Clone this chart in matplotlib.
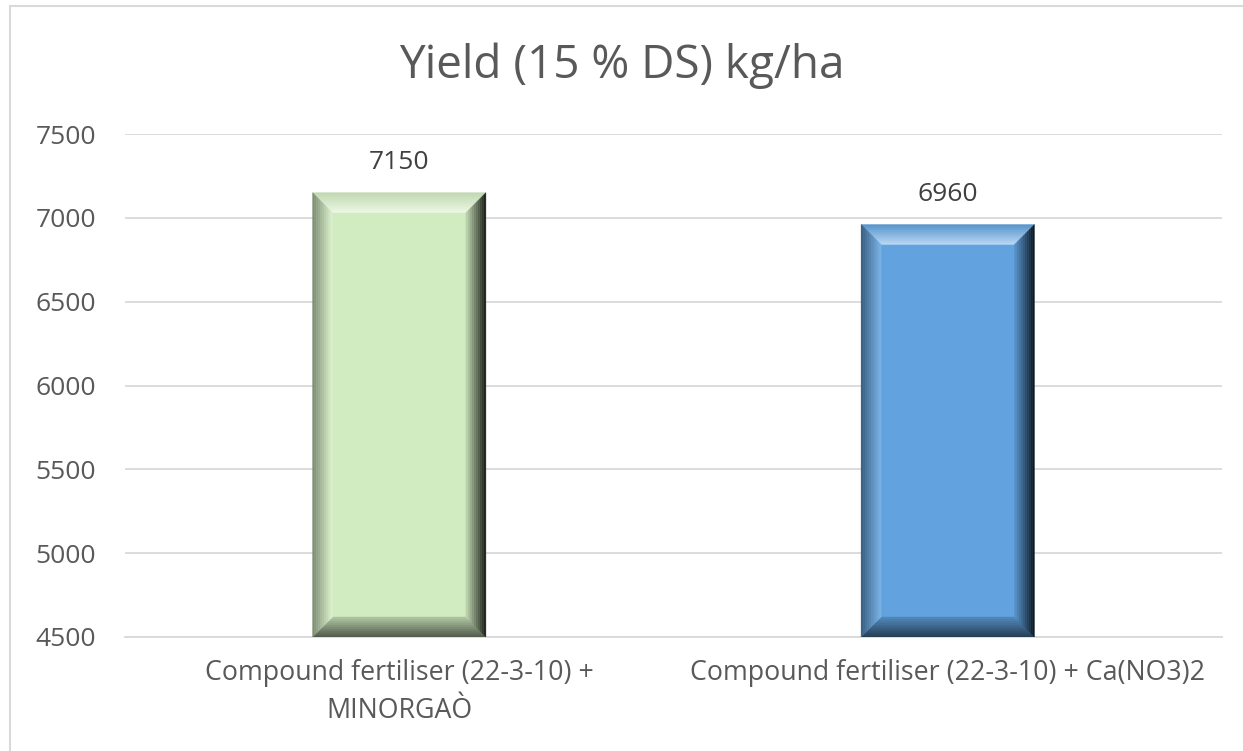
import matplotlib
matplotlib.use("Agg")
import matplotlib.pyplot as plt
import numpy as np
from matplotlib.patches import Polygon, Rectangle
from matplotlib.transforms import IdentityTransform
from matplotlib.colors import to_rgb

# данные
categories = ["Compound fertiliser (22-3-10) +\nMINORGAÒ",
              "Compound fertiliser (22-3-10) + Ca(NO3)2"]
values = [7150, 6960]
bar_colors = ["#D2ECC2", "#62A3DF"]
title = "Yield (15 % DS) kg/ha"
yticks = [4500, 5000, 5500, 6000, 6500, 7000, 7500]

plt.rcParams['font.family'] = ['Open Sans', 'DejaVu Sans']
text_gray = "#595959"

fig = plt.figure(figsize=(12.43, 7.51), dpi=100)
ax = fig.add_axes([125 / 1243, 1 - 637 / 751, 1097 / 1243, 503 / 751])

x = np.arange(len(categories))
bars = ax.bar(x, values, width=0.316, color=bar_colors, zorder=2)

ax.set_xlim(-0.5, len(categories) - 0.5)
ax.set_ylim(yticks[0], yticks[-1])
ax.set_yticks(yticks)
ax.set_xticks(x)
ax.set_xticklabels(categories, fontsize=19.3, color=text_gray, linespacing=1.45)
ax.tick_params(axis='y', labelsize=19, colors=text_gray, length=0, pad=21)
ax.tick_params(axis='x', length=0, pad=16)
ax.grid(axis='y', color="#D9D9D9", linewidth=1.3, zorder=0)
for s in ax.spines.values():
    s.set_visible(False)
ax.spines['bottom'].set_visible(True)
ax.spines['bottom'].set_color("#D9D9D9")
ax.spines['bottom'].set_linewidth(1.3)

# подписи значений
for xi, v in zip(x, values):
    ax.annotate(f"{v}", (xi, v), xytext=(0, 17), textcoords='offset points',
                ha='center', va='baseline', fontsize=19, color="#404040")

fig.text(0.5, 1 - 78 / 751, title, ha='center', va='baseline', fontsize=33, color=text_gray)


def mix(c, other, t):
    c = np.array(to_rgb(c))
    o = np.array(to_rgb(other))
    return tuple(c * (1 - t) + o * t)


def bevel(patch, base, size=20, steps=10):
    """Имитация объёмного стиля Excel"""
    bb = patch.get_window_extent()
    ab = ax.get_window_extent()
    x0, x1 = bb.x0, bb.x1
    y0, y1 = max(bb.y0, ab.y0), min(bb.y1, ab.y1)
    sides = {
        'top': (mix(base, "black", 0.08), mix(base, "white", 0.55)),
        'left': (mix(base, "black", 0.40), mix(base, "white", 0.15)),
        'right': (mix(base, "black", 0.85), mix(base, "black", 0.12)),
        'bottom': (mix(base, "black", 0.60), mix(base, "black", 0.18)),
    }
    for k in range(steps):
        a = size * k / steps
        b = size * (k + 1) / steps
        t = k / (steps - 1)
        polys = {
            'top': [(x0 + a, y1 - a), (x1 - a, y1 - a), (x1 - b, y1 - b), (x0 + b, y1 - b)],
            'bottom': [(x0 + a, y0 + a), (x1 - a, y0 + a), (x1 - b, y0 + b), (x0 + b, y0 + b)],
            'left': [(x0 + a, y0 + a), (x0 + a, y1 - a), (x0 + b, y1 - b), (x0 + b, y0 + b)],
            'right': [(x1 - a, y0 + a), (x1 - a, y1 - a), (x1 - b, y1 - b), (x1 - b, y0 + b)],
        }
        for name, pts in polys.items():
            c_out, c_in = sides[name]
            col = mix(c_out, c_in, t)
            ax.add_patch(Polygon(pts, closed=True, transform=IdentityTransform(),
                                 facecolor=col, edgecolor=col, linewidth=0.3, zorder=3))


for patch, col in zip(bars, bar_colors):
    bevel(patch, col)

# рамка диаграммы (видны только верх и левый край)
fig.patches.append(Rectangle((10 / 1243, -0.01), 1.05, 1 - 6 / 751 + 0.01,
                             transform=fig.transFigure, fill=False,
                             edgecolor="#D9D9D9", linewidth=1.5))

plt.savefig("out.png", dpi=100)
plt.close()
